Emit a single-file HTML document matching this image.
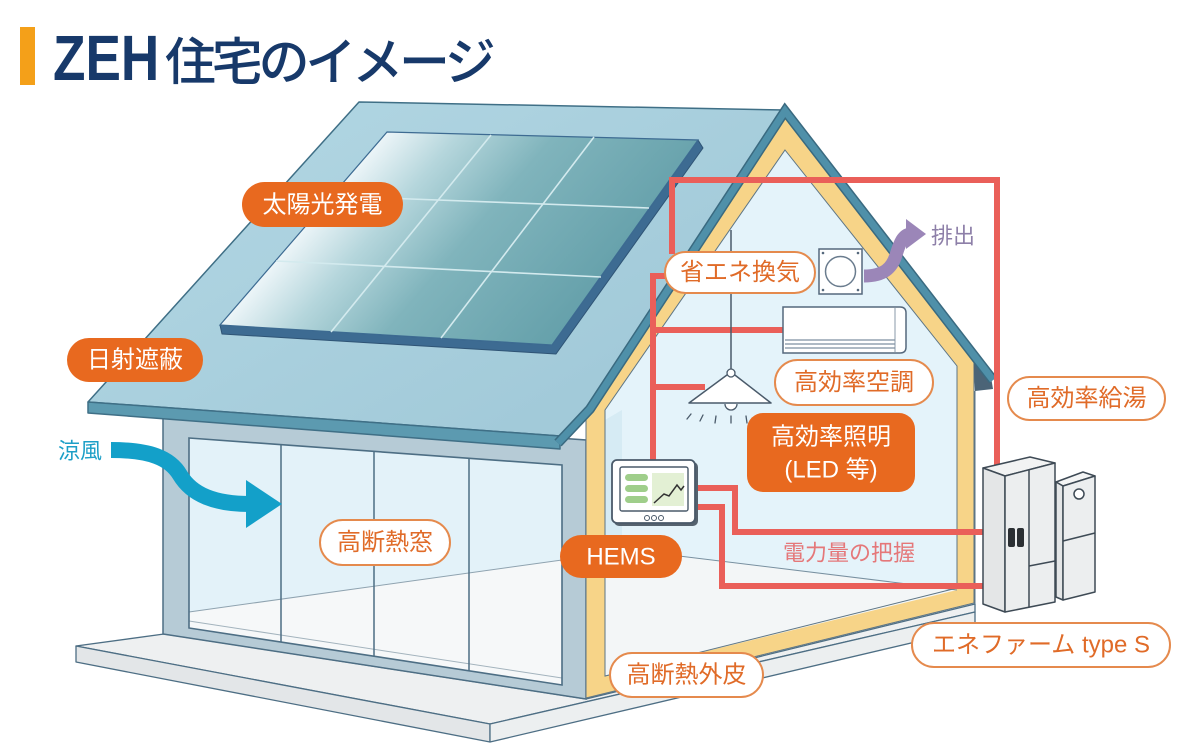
<!DOCTYPE html>
<html><head><meta charset="utf-8"><style>
html,body{margin:0;padding:0;background:#fff;}
svg{display:block;}
text{font-family:"Liberation Sans","Noto Sans CJK JP",sans-serif;}
</style></head><body>
<svg width="1200" height="756" viewBox="0 0 1200 756" xmlns="http://www.w3.org/2000/svg">
<defs>
<linearGradient id="pg" gradientUnits="userSpaceOnUse" x1="300" y1="230" x2="500" y2="402">
<stop offset="0" stop-color="#eef6f9"/>
<stop offset="0.22" stop-color="#b5d6dc"/>
<stop offset="0.5" stop-color="#80b4bc"/>
<stop offset="1" stop-color="#66a1ab"/>
</linearGradient>
<linearGradient id="rg" gradientUnits="userSpaceOnUse" x1="300" y1="100" x2="500" y2="440">
<stop offset="0" stop-color="#b0d5e2"/>
<stop offset="1" stop-color="#a2cad9"/>
</linearGradient>
</defs>

<!-- Title -->
<rect x="20" y="27" width="15" height="58" fill="#f4a019"/>
<text transform="translate(53,80) scale(0.83,1)" font-size="64" font-weight="bold" fill="#17396a">ZEH</text>
<text x="165" y="80" font-size="51" font-weight="500" letter-spacing="-4.2" fill="#17396a">住宅のイメージ</text>

<!-- Slab -->
<polygon points="76,646 164,634 586,699 975,604 975,612 490,724" fill="#eef0f1" stroke="#4d6e84" stroke-width="1.3" stroke-linejoin="round"/>
<polygon points="76,646 490,724 490,742 76,662" fill="#e3e6e8" stroke="#4d6e84" stroke-width="1.3" stroke-linejoin="round"/>
<polygon points="490,724 975,612 975,628 490,742" fill="#eceff0" stroke="#4d6e84" stroke-width="1.3" stroke-linejoin="round"/>

<!-- Front wall -->
<polygon points="163,410 586,440 586,699 163,634" fill="#b6cbd6" stroke="#4d6e84" stroke-width="1.5"/>
<!-- Glass -->
<polygon points="189,438 562,465 562,685 189,628" fill="#e3f2f9"/>
<polygon points="189,612 562,560 562,685 189,628" fill="#f6f8f9"/>
<line x1="189" y1="612" x2="562" y2="560" stroke="#8fa3b0" stroke-width="1"/>
<line x1="189" y1="621" x2="562" y2="678" stroke="#a3b3bd" stroke-width="1"/>
<polygon points="189,438 562,465 562,685 189,628" fill="none" stroke="#4d6e84" stroke-width="1.6"/>
<line x1="281" y1="444.7" x2="281" y2="642" stroke="#4d6e84" stroke-width="1.5"/>
<line x1="374" y1="451.4" x2="374" y2="656" stroke="#4d6e84" stroke-width="1.5"/>
<line x1="469" y1="458.3" x2="469" y2="671" stroke="#4d6e84" stroke-width="1.5"/>

<!-- Roof -->
<polygon points="359,102 785,110 590,407 560,436 88,402" fill="url(#rg)" stroke="#3f6f86" stroke-width="1.5" stroke-linejoin="round"/>
<polygon points="88,402 560,436 560,449 88,413" fill="#5c9ab0" stroke="#3f6f86" stroke-width="1.5" stroke-linejoin="round"/>

<!-- Gable section -->
<polygon points="785,116 974,360 974,603 586,698 586,410" fill="#f7d488" stroke="#5d7585" stroke-width="1"/>
<polygon points="785,150 957,366 957,588 605,676 605,410" fill="#e4f3fa" stroke="#5d7585" stroke-width="1"/>
<polygon points="605,420 622,410 622,548 605,546" fill="#d6ebf4"/>
<polygon points="605,547 957,590 605,676" fill="#f3f6f7"/>
<line x1="605" y1="547" x2="957" y2="590" stroke="#7890a0" stroke-width="1"/>
<polyline points="605,410 605,676 957,588" fill="none" stroke="#5d7585" stroke-width="1"/>
<polygon points="973,354 991,377 993,389 975,391" fill="#4b6477"/>
<line x1="975" y1="391" x2="975" y2="604" stroke="#5d7585" stroke-width="1"/>
<polyline points="558,443 590,409 785,111 993,380" fill="none" stroke="#3a6a80" stroke-width="10" stroke-linejoin="miter"/>
<polyline points="558,443 590,409 785,111 993,380" fill="none" stroke="#4f90a9" stroke-width="7" stroke-linejoin="miter"/>

<!-- Solar panel -->
<polygon points="220,325 552,345 698,140 703,148 556,354 222,334" fill="#3d6b92" stroke="#2f5475" stroke-width="1" stroke-linejoin="round"/>
<polygon points="387,132 698,140 552,345 220,325" fill="url(#pg)" stroke="#3d6b92" stroke-width="1.2"/>
<g stroke="#d3eaee" stroke-width="1.6">
<line x1="491" y1="135" x2="331" y2="332"/>
<line x1="594" y1="137" x2="441" y2="338"/>
<line x1="331" y1="196" x2="649" y2="208"/>
<line x1="276" y1="261" x2="601" y2="277"/>
</g>

<!-- Red lines -->
<g fill="none" stroke="#ea5f59" stroke-width="6" stroke-linejoin="miter">
<path d="M672,254 L672,180 L997,180 L997,466"/>
<path d="M667,276 L653,276 L653,462"/>
<path d="M653,330 L785,330"/>
<path d="M653,387 L705,387"/>
<path d="M695,488 L735,488 L735,532 L984,532"/>
<path d="M695,507 L722,507 L722,586 L984,586"/>
</g>

<!-- Ventilation fan -->
<rect x="819" y="249" width="43" height="45" fill="#fff" stroke="#55687c" stroke-width="1.5"/>
<circle cx="840.5" cy="271.5" r="15" fill="#fff" stroke="#6a7c8e" stroke-width="1.5"/>
<g fill="#55687c"><circle cx="823" cy="253" r="1.3"/><circle cx="858" cy="253" r="1.3"/><circle cx="823" cy="290" r="1.3"/><circle cx="858" cy="290" r="1.3"/></g>

<!-- Exhaust arrow -->
<path d="M864,276 C884,276 892,268 896,255 C900,242 903,235 910,234" fill="none" stroke="#9b86b8" stroke-width="13"/>
<polygon points="906,219 926,234 906,249" fill="#9b86b8"/>
<text x="953" y="236" font-size="22" fill="#8d7fa8" text-anchor="middle" dominant-baseline="central">排出</text>

<!-- Air conditioner -->
<path d="M783,307 L900,307 Q906,307 906,313 L906,347 Q906,353 900,353 L783,353 Z" fill="#fff" stroke="#55687c" stroke-width="1.5"/>
<line x1="895" y1="308" x2="895" y2="352" stroke="#8a9aaa" stroke-width="1"/>
<g stroke="#7d8fa0" stroke-width="1.2">
<line x1="785" y1="340" x2="895" y2="340"/>
<line x1="785" y1="344" x2="895" y2="344"/>
<line x1="785" y1="348" x2="895" y2="348"/>
</g>

<!-- Lamp -->
<line x1="731" y1="230" x2="731" y2="372" stroke="#4a5a6a" stroke-width="1.5"/>
<path d="M725,404 A6,6 0 0 0 737,404" fill="#fff" stroke="#4a5a6a" stroke-width="1.3"/>
<polygon points="731,372 771,403 689,403" fill="#fff" stroke="#4a5a6a" stroke-width="1.5" stroke-linejoin="round"/>
<circle cx="731" cy="373" r="4" fill="#fff" stroke="#4a5a6a" stroke-width="1.3"/>
<g stroke="#4a5a6a" stroke-width="1.3" stroke-linecap="round">
<line x1="691" y1="414" x2="687" y2="419"/>
<line x1="703" y1="415" x2="700" y2="421"/>
<line x1="716" y1="416" x2="715" y2="423"/>
<line x1="731" y1="416" x2="731" y2="423"/>
<line x1="746" y1="416" x2="747" y2="423"/>
<line x1="759" y1="415" x2="762" y2="421"/>
<line x1="771" y1="414" x2="775" y2="419"/>
</g>

<!-- HEMS monitor -->
<rect x="614" y="462" width="84" height="64" rx="5" fill="#55626e"/>
<rect x="612" y="460" width="83" height="63" rx="5" fill="#fff" stroke="#4a5a6a" stroke-width="1.8"/>
<rect x="620" y="467" width="68" height="44" rx="2" fill="#fff" stroke="#4a5a6a" stroke-width="1.4"/>
<rect x="652" y="473" width="32" height="33" fill="#e3f0d4"/>
<g fill="#9fce8a"><rect x="625" y="474" width="23" height="7" rx="3.5"/><rect x="625" y="485" width="23" height="7" rx="3.5"/><rect x="625" y="496" width="23" height="7" rx="3.5"/></g>
<polyline points="654,503 664,494 669,496 677,485 681,490 684,486" fill="none" stroke="#333" stroke-width="1.5"/>
<g fill="#fff" stroke="#4a5a6a" stroke-width="1"><circle cx="647" cy="518" r="2.5"/><circle cx="654" cy="518" r="2.5"/><circle cx="661" cy="518" r="2.5"/></g>

<!-- Ene-farm -->
<g stroke="#3e4a55" stroke-width="1.5" stroke-linejoin="round">
<polygon points="1056,482 1083,472 1095,476 1063,486" fill="#f4f5f5"/>
<polygon points="1056,482 1063,486 1063,600 1056,597" fill="#e4e6e7"/>
<polygon points="1063,486 1095,476 1095,592 1063,600" fill="#eceeef"/>
<line x1="1063" y1="541" x2="1095" y2="533"/>
<circle cx="1079" cy="494" r="5" fill="#fff"/>
<polygon points="983,468 1030,457 1055,463 1005,476" fill="#f2f3f3"/>
<polygon points="983,468 1005,476 1005,612 983,604" fill="#e4e6e7"/>
<polygon points="1005,476 1055,463 1055,602 1005,612" fill="#eceeef"/>
<line x1="1029" y1="470" x2="1029" y2="607"/>
<line x1="1029" y1="566" x2="1055" y2="561"/>
</g>
<rect x="1008" y="528" width="7" height="19" rx="2" fill="#2b2f33"/>
<rect x="1017" y="528" width="7" height="19" rx="2" fill="#2b2f33"/>

<!-- Cool wind arrow -->
<path d="M111,450 C150,450 170,458 180,475 C192,495 215,504 250,504" fill="none" stroke="#13a0c9" stroke-width="16"/>
<polygon points="246,480 282,504 246,528" fill="#13a0c9"/>
<text x="80" y="451" font-size="22" fill="#1c9fc7" text-anchor="middle" dominant-baseline="central">涼風</text>

<!-- Filled labels -->
<g fill="#e8691f">
<rect x="242" y="182" width="161" height="45" rx="22.5"/>
<rect x="67" y="338" width="136" height="44" rx="22"/>
<rect x="560" y="535" width="122" height="43" rx="21.5"/>
<rect x="747" y="413" width="168" height="79" rx="16"/>
</g>
<g fill="#fff" font-size="24" text-anchor="middle" dominant-baseline="central">
<text x="322.5" y="205">太陽光発電</text>
<text x="135" y="360">日射遮蔽</text>
<text x="621" y="557">HEMS</text>
<text x="831" y="437">高効率照明</text>
<text x="831" y="470">(LED 等)</text>
</g>

<!-- Outline labels -->
<g fill="#fff" stroke="#e58a4d" stroke-width="2">
<rect x="665" y="252" width="150" height="41" rx="20.5"/>
<rect x="775" y="360" width="158" height="45" rx="22.5"/>
<rect x="1008" y="377" width="157" height="43" rx="21.5"/>
<rect x="912" y="623" width="258" height="44" rx="22"/>
<rect x="610" y="653" width="153" height="44" rx="22"/>
<rect x="320" y="520" width="130" height="45" rx="22.5"/>
</g>
<g fill="#e06b28" font-size="24" text-anchor="middle" dominant-baseline="central">
<text x="740" y="272.5">省エネ換気</text>
<text x="854" y="382.5">高効率空調</text>
<text x="1086.5" y="398.5">高効率給湯</text>
<text x="1041" y="645">エネファーム type S</text>
<text x="686.5" y="675">高断熱外皮</text>
<text x="385" y="542.5">高断熱窓</text>
</g>

<text x="849" y="553" font-size="22" fill="#e57779" text-anchor="middle" dominant-baseline="central">電力量の把握</text>
</svg>
</body></html>
